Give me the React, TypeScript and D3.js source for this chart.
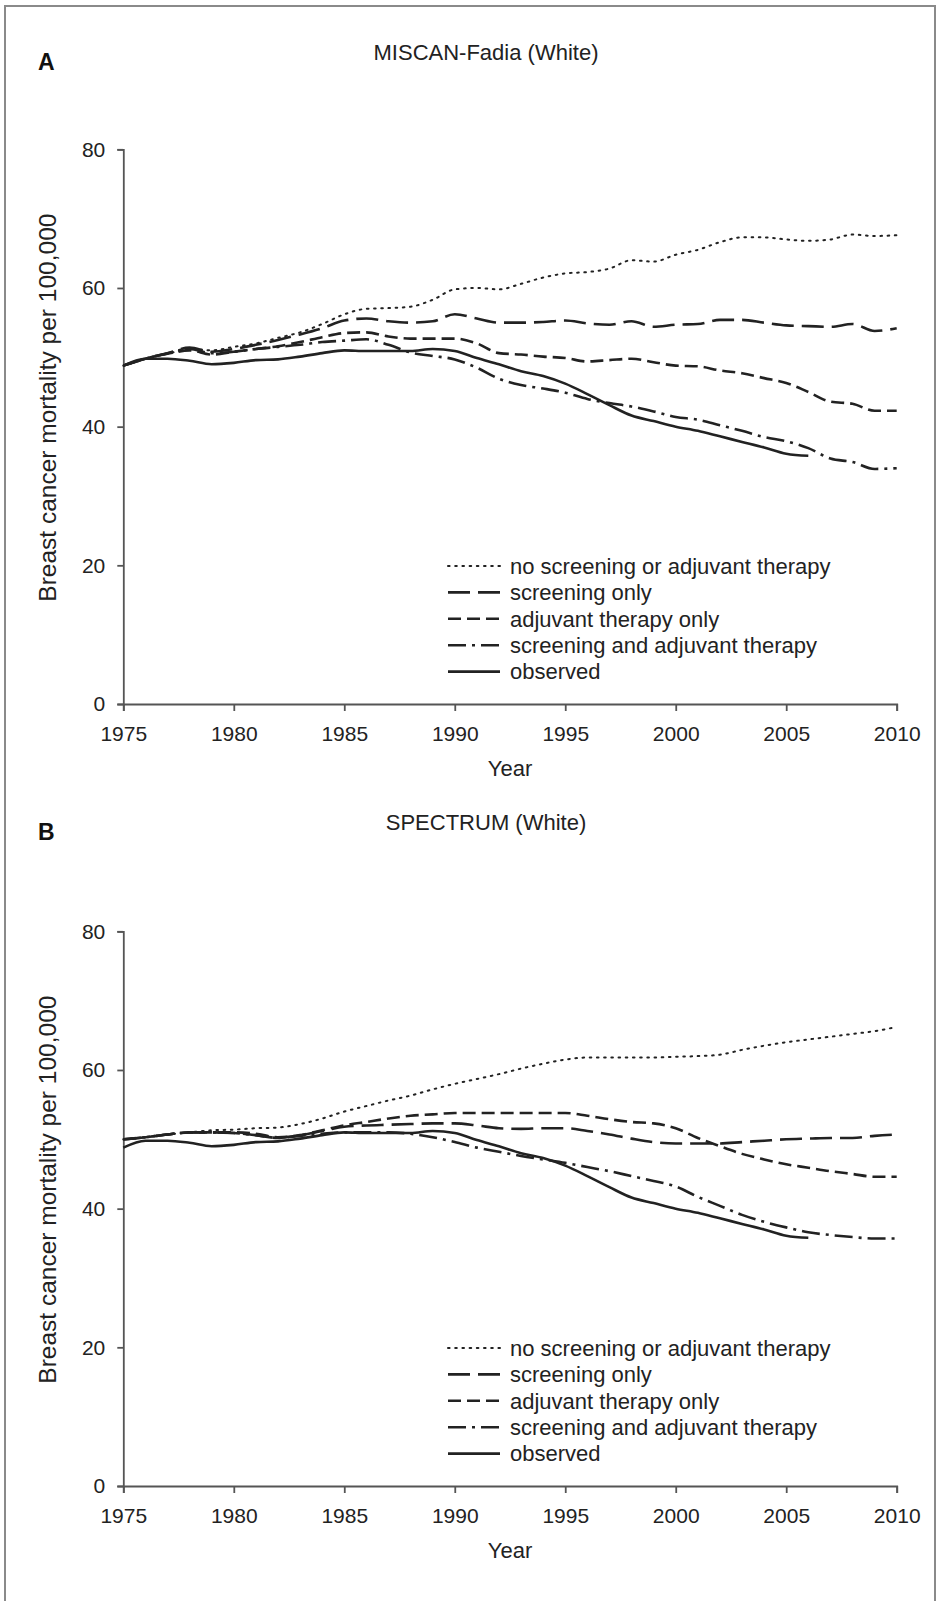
import React, { useRef, useEffect } from "react";
import * as d3 from "d3";

const years = d3.range(1975, 2011);
const xTicks = [1975, 1980, 1985, 1990, 1995, 2000, 2005, 2010];
const yTicks = [0, 20, 40, 60, 80];

// observed mortality (same in both panels), ends 2006
const observed = [48.8, 49.8, 49.8, 49.5, 49.0, 49.2, 49.6, 49.7, 50.1, 50.6, 51.0, 50.9, 50.9, 50.9, 51.2, 50.9, 49.9, 49.0, 48.0, 47.3, 46.2, 44.7, 43.1, 41.6, 40.8, 40.0, 39.4, 38.6, 37.8, 37.0, 36.1, 35.8];

// panel A: MISCAN-Fadia
const noneA = [48.8, 49.8, 50.5, 51.2, 51.0, 51.5, 52.0, 52.8, 53.6, 54.8, 56.2, 57.0, 57.1, 57.3, 58.3, 59.8, 60.0, 59.8, 60.6, 61.5, 62.1, 62.3, 62.8, 64.0, 63.8, 64.8, 65.5, 66.6, 67.3, 67.3, 67.0, 66.8, 67.0, 67.7, 67.5, 67.6];
const screenA = [48.8, 49.8, 50.6, 51.4, 50.8, 51.2, 51.8, 52.5, 53.3, 54.2, 55.3, 55.6, 55.2, 55.0, 55.2, 56.2, 55.6, 55.0, 55.0, 55.1, 55.3, 54.9, 54.7, 55.2, 54.4, 54.7, 54.8, 55.4, 55.4, 55.0, 54.6, 54.5, 54.4, 54.8, 53.8, 54.2];
const adjuvantA = [48.8, 49.8, 50.5, 51.0, 50.4, 50.8, 51.2, 51.6, 52.2, 52.9, 53.5, 53.6, 53.0, 52.7, 52.7, 52.7, 52.0, 50.6, 50.4, 50.1, 49.9, 49.4, 49.6, 49.8, 49.3, 48.8, 48.7, 48.1, 47.7, 47.0, 46.3, 45.0, 43.6, 43.3, 42.3, 42.3];
const bothA = [48.8, 49.8, 50.6, 51.2, 50.6, 50.8, 51.2, 51.5, 51.8, 52.2, 52.4, 52.6, 51.8, 50.7, 50.2, 49.7, 48.5, 46.9, 46.0, 45.5, 44.9, 44.0, 43.4, 42.9, 42.2, 41.4, 41.0, 40.2, 39.4, 38.5, 37.9, 36.9, 35.4, 34.9, 33.9, 34.0];

// panel B: SPECTRUM
const noneB = [50.0, 50.3, 50.7, 51.0, 51.3, 51.4, 51.6, 51.7, 52.2, 53.0, 54.0, 54.8, 55.6, 56.3, 57.2, 58.0, 58.7, 59.4, 60.2, 60.9, 61.5, 61.8, 61.8, 61.8, 61.8, 61.9, 62.0, 62.2, 62.9, 63.5, 64.0, 64.4, 64.8, 65.2, 65.6, 66.2];
const screenB = [50.0, 50.3, 50.7, 51.0, 51.0, 50.9, 50.6, 50.2, 50.6, 51.2, 51.8, 52.0, 52.1, 52.2, 52.3, 52.3, 52.0, 51.6, 51.5, 51.6, 51.6, 51.2, 50.7, 50.1, 49.6, 49.4, 49.4, 49.4, 49.6, 49.8, 50.0, 50.1, 50.2, 50.2, 50.5, 50.7];
const adjuvantB = [50.0, 50.3, 50.7, 51.0, 51.0, 51.0, 50.8, 50.3, 50.6, 51.3, 52.0, 52.5, 53.0, 53.4, 53.6, 53.8, 53.8, 53.8, 53.8, 53.8, 53.8, 53.4, 52.9, 52.5, 52.3, 51.6, 50.2, 49.0, 47.9, 47.1, 46.4, 45.9, 45.4, 45.0, 44.6, 44.6];
const bothB = [50.0, 50.3, 50.7, 51.0, 51.0, 50.9, 50.6, 50.2, 50.5, 50.8, 51.0, 51.0, 51.0, 50.8, 50.3, 49.6, 48.8, 48.2, 47.6, 47.1, 46.6, 46.0, 45.4, 44.7, 44.0, 43.2, 41.7, 40.4, 39.1, 38.1, 37.3, 36.6, 36.2, 35.9, 35.7, 35.7];

const legendLabels = [
    "no screening or adjuvant therapy",
    "screening only",
    "adjuvant therapy only",
    "screening and adjuvant therapy",
    "observed",
];
const dashes = ["1.6 5.6", "22 8", "13 6", "18 6 3 6", null];

const panels = [
    { letter: "A", title: "MISCAN-Fadia (White)", headShift: 0, series: [noneA, screenA, adjuvantA, bothA, observed] },
    { letter: "B", title: "SPECTRUM (White)", headShift: -12, series: [noneB, screenB, adjuvantB, bothB, observed] },
];

const font = "'Liberation Sans', Arial, sans-serif";
const ink = "#222";

const App = () => {
    const svgRef = useRef();

    useEffect(() => {
        const svg = d3.select(svgRef.current);
        svg.selectAll("*").remove();

        // frame (open at the bottom)
        svg.append("path")
            .attr("d", "M5,1601 V6 H935 V1601")
            .attr("fill", "none")
            .attr("stroke", "#8a8a8a")
            .attr("stroke-width", 2);

        const xScale = d3.scaleLinear().domain([1975, 2010]).range([123.3, 896.7]);

        panels.forEach((p, pi) => {
            const off = pi * 782;
            const g = svg.append("g").attr("transform", `translate(0, ${off})`);
            const yScale = d3.scaleLinear().domain([0, 80]).range([704, 149.3]);

            g.append("text")
                .attr("x", 38).attr("y", 70 + p.headShift)
                .attr("font-family", font).attr("font-weight", "bold")
                .attr("font-size", 23).attr("fill", "#111")
                .text(p.letter);

            g.append("text")
                .attr("x", 486).attr("y", 60 + p.headShift)
                .attr("text-anchor", "middle")
                .attr("font-family", font).attr("font-size", 22).attr("fill", ink)
                .text(p.title);

            // axes
            const xAxis = d3.axisBottom(xScale).tickValues(xTicks).tickSize(7).tickPadding(15).tickFormat(d3.format("d"));
            const gx = g.append("g").attr("transform", `translate(0, ${yScale(0)})`).call(xAxis);
            const yAxis = d3.axisLeft(yScale).tickValues(yTicks).tickSize(6).tickPadding(12);
            const gy = g.append("g").attr("transform", `translate(${xScale(1975)}, 0)`).call(yAxis);
            [gx, gy].forEach((a) => {
                a.select(".domain").attr("stroke", "#555").attr("stroke-width", 1.8);
                a.selectAll(".tick line").attr("stroke", "#555").attr("stroke-width", 1.8);
                a.selectAll("text")
                    .attr("font-family", font)
                    .attr("font-size", 21)
                    .attr("fill", ink);
            });

            g.append("text")
                .attr("x", (xScale(1975) + xScale(2010)) / 2).attr("y", 776)
                .attr("text-anchor", "middle")
                .attr("font-family", font).attr("font-size", 22).attr("fill", ink)
                .text("Year");

            g.append("text")
                .attr("transform", `translate(56, ${(yScale(0) + yScale(80)) / 2 - 19}) rotate(-90)`)
                .attr("text-anchor", "middle")
                .attr("font-family", font).attr("font-size", 24.5).attr("fill", ink)
                .text("Breast cancer mortality per 100,000");

            // lines
            const line = d3.line()
                .x((d) => xScale(d[0]))
                .y((d) => yScale(d[1]))
                .curve(d3.curveMonotoneX);

            p.series.forEach((vals, i) => {
                const pts = vals.map((v, j) => [years[j], v]);
                g.append("path")
                    .attr("d", line(pts))
                    .attr("fill", "none")
                    .attr("stroke", ink)
                    .attr("stroke-width", i === 0 ? 2 : 2.6)
                    .attr("stroke-linecap", i === 0 ? "round" : "butt")
                    .attr("stroke-dasharray", dashes[i]);
            });

            // legend
            const lg = g.append("g");
            legendLabels.forEach((lab, i) => {
                const y = 566 + i * 26.4;
                lg.append("line")
                    .attr("x1", 448).attr("x2", 500)
                    .attr("y1", y).attr("y2", y)
                    .attr("stroke", ink)
                    .attr("stroke-width", i === 0 ? 2 : 2.6)
                    .attr("stroke-linecap", i === 0 ? "round" : "butt")
                    .attr("stroke-dasharray", dashes[i]);
                lg.append("text")
                    .attr("x", 510).attr("y", y).attr("dy", "0.35em")
                    .attr("font-family", font).attr("font-size", 22).attr("fill", ink)
                    .text(lab);
            });
        });
    }, []);

    return (
        <div style={{ position: "absolute", left: 0, top: 0, background: "#fff" }}>
            <svg ref={svgRef} width={938} height={1601} style={{ display: "block" }}></svg>
        </div>
    );
};

export default App;
